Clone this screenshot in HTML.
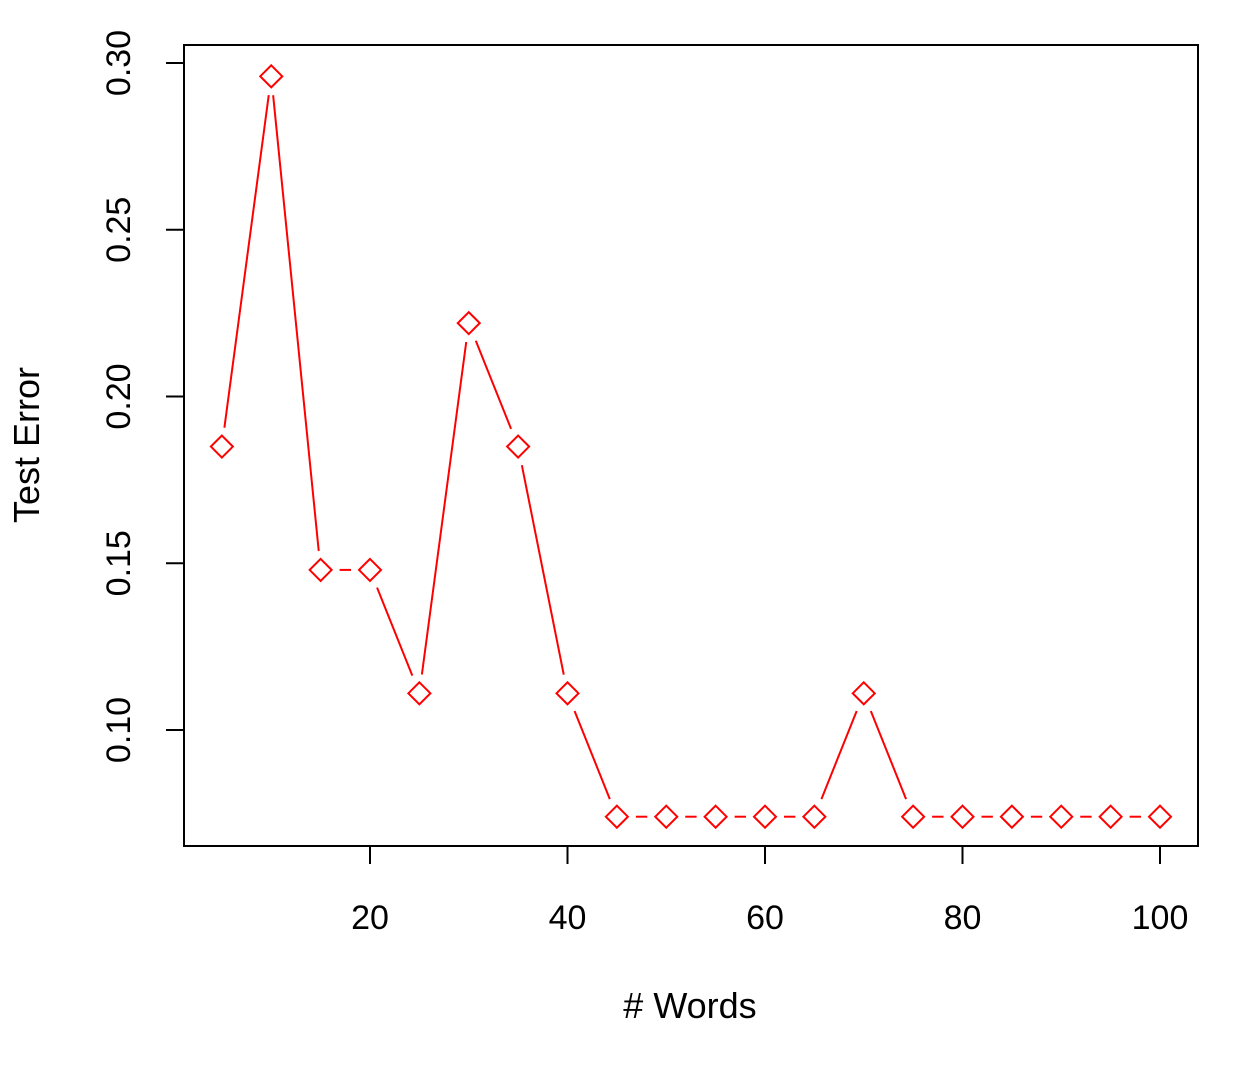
<!DOCTYPE html>
<html><head><meta charset="utf-8"><style>
html,body{margin:0;padding:0;background:#fff}
svg text{font-family:"Liberation Sans",Arial,sans-serif;fill:#000}
</style></head><body>
<svg id="chart" width="1238" height="1060" xmlns="http://www.w3.org/2000/svg">
<rect x="184" y="45" width="1014" height="801" fill="none" stroke="#000" stroke-width="2"/>
<g id="xaxis"></g>
<g id="yaxis"></g>
<g id="series"></g>
<text x="690" y="1018" font-size="36" text-anchor="middle"># Words</text>
<text transform="translate(39,445) rotate(-90)" font-size="36" text-anchor="middle">Test Error</text>
</svg>
<script>
const words = [5,10,15,20,25,30,35,40,45,50,55,60,65,70,75,80,85,90,95,100];
const testError = [0.185,0.296,0.148,0.148,0.111,0.222,0.185,0.111,0.074,0.074,0.074,0.074,0.074,0.111,0.074,0.074,0.074,0.074,0.074,0.074];
const xTicks = [20,40,60,80,100];
const yTicks = [0.10,0.15,0.20,0.25,0.30];
const yTickLabels = ["0.10","0.15","0.20","0.25","0.30"];
const NS="http://www.w3.org/2000/svg";
function xs(v){return 370+(v-20)*9.875;}
function ys(v){return 730-(v-0.10)*3335;}
function mk(tag,attrs,parent){const e=document.createElementNS(NS,tag);for(const k in attrs)e.setAttribute(k,attrs[k]);parent.appendChild(e);return e;}
const xa=document.getElementById('xaxis'),ya=document.getElementById('yaxis'),sg=document.getElementById('series');
xTicks.forEach(t=>{
  const l=mk('line',{x1:xs(t),x2:xs(t),y1:846,y2:864,stroke:'#000','stroke-width':2},xa);
  
  
  const tx=mk('text',{x:xs(t),y:929,'font-size':34,'text-anchor':'middle'},xa);
  tx.textContent=t;
  
  
});
yTicks.forEach((t,i)=>{
  const l=mk('line',{x1:166,x2:184,y1:ys(t),y2:ys(t),stroke:'#000','stroke-width':2},ya);
  
  
  const tx=mk('text',{transform:`translate(130,${ys(t)}) rotate(-90)`,'font-size':34,'text-anchor':'middle'},ya);
  tx.textContent=yTickLabels[i];
  
  
});
const gap=19;
for(let i=0;i<words.length-1;i++){
  const x1=xs(words[i]),y1=ys(testError[i]),x2=xs(words[i+1]),y2=ys(testError[i+1]);
  const d=Math.hypot(x2-x1,y2-y1);
  if(d<=2*gap)continue;
  const ux=(x2-x1)/d,uy=(y2-y1)/d;
  const s=mk('line',{x1:x1+ux*gap,y1:y1+uy*gap,x2:x2-ux*gap,y2:y2-uy*gap,stroke:'#ff0000','stroke-width':2},sg);
  
  
}
const r=11;
words.forEach((w,i)=>{
  const x=xs(w),y=ys(testError[i]);
  const p=mk('polygon',{points:`${x},${y-r} ${x+r},${y} ${x},${y+r} ${x-r},${y}`,fill:'none',stroke:'#ff0000','stroke-width':2},sg);
  
  
});
</script>
</body></html>
